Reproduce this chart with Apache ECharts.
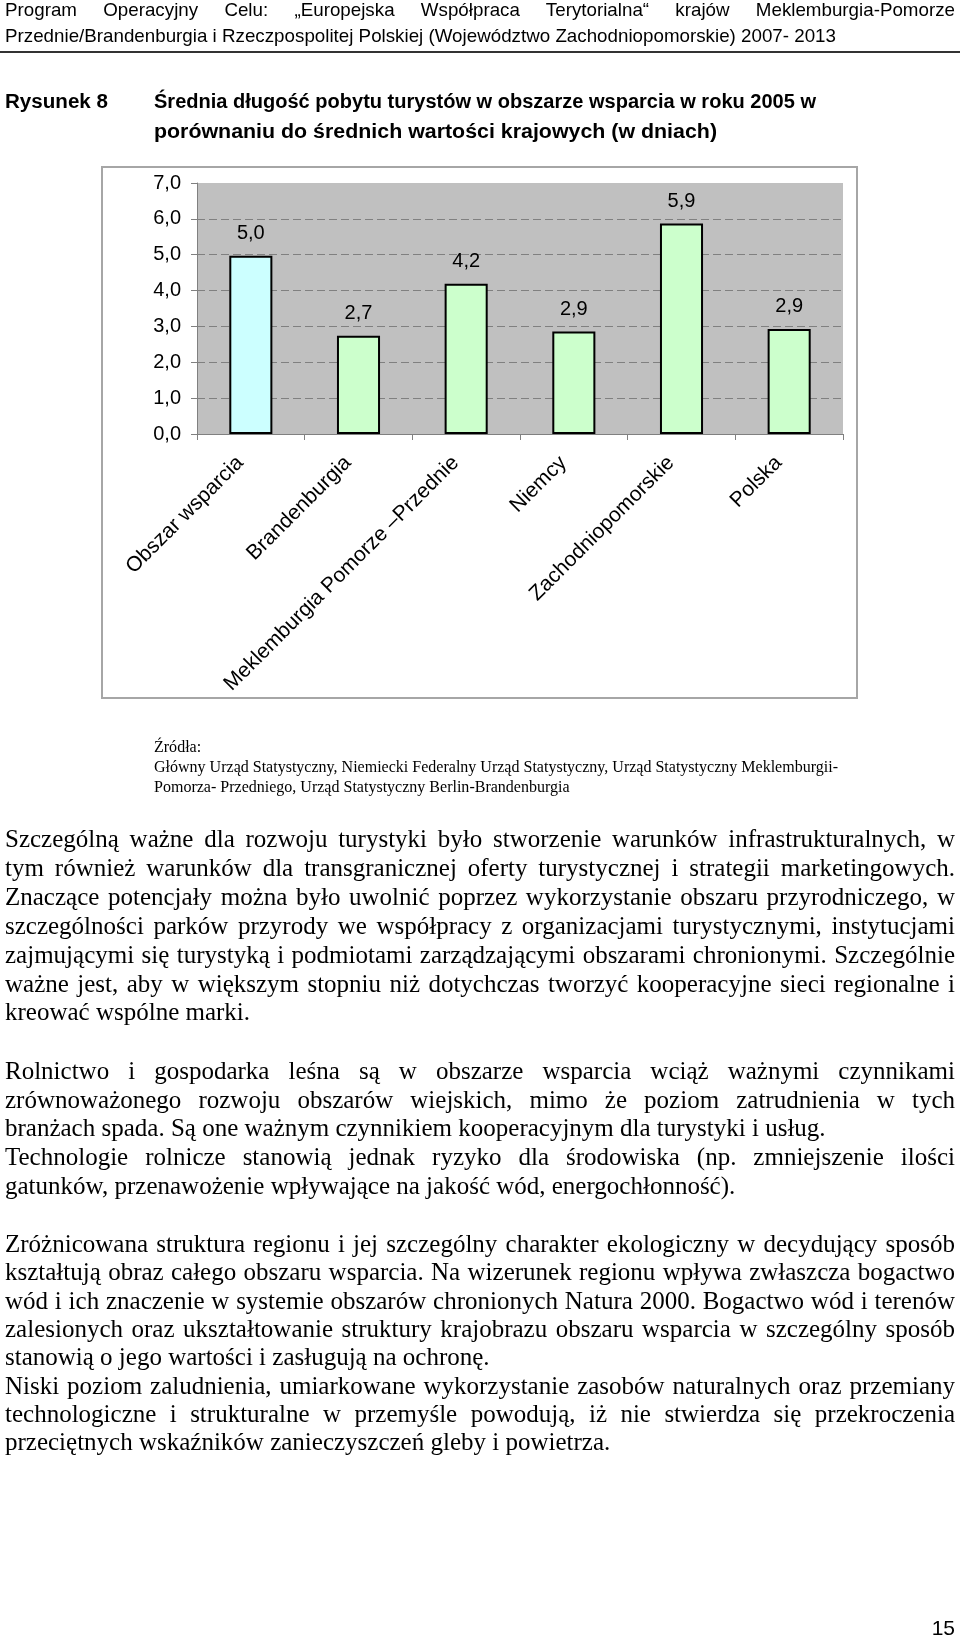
<!DOCTYPE html>
<html><head><meta charset="utf-8">
<script src="https://cdn.jsdelivr.net/npm/echarts@6/dist/echarts.min.js"></script>
<style>
html,body{margin:0;padding:0;background:#fff;}
body{width:960px;height:1638px;position:relative;overflow:hidden;}
.ln{position:absolute;white-space:pre;transform-origin:0 50%;color:#000;}
#box{position:absolute;left:101px;top:166px;width:757px;height:533px;border:2px solid #a6a6a6;box-sizing:border-box;}
#chart{position:absolute;left:0;top:0;width:960px;height:1638px;}
#rule{position:absolute;left:0;top:51px;width:960px;height:2px;background:#333;}
</style></head><body>
<div id="rule"></div><div id="box"></div><div id="chart"></div>
<script>
// ---- chart data ----
const categories = ['Obszar wsparcia', 'Brandenburgia', 'Meklemburgia Pomorze \u2013Przednie', 'Niemcy', 'Zachodniopomorskie', 'Polska'];
const values = [4.97, 2.74, 4.19, 2.86, 5.87, 2.93];
const yMin = 0, yMax = 7, yStep = 1;

// ---- page texts ----
const headerLines = [
  'Program Operacyjny Celu: \u201eEuropejska Wsp\u00f3\u0142praca Terytorialna\u201c kraj\u00f3w Meklemburgia-Pomorze',
  'Przednie/Brandenburgia i Rzeczpospolitej Polskiej (Wojew\u00f3dztwo Zachodniopomorskie) 2007- 2013'
];
const figureLabel = 'Rysunek 8';
const titleLines = [
  '\u015arednia d\u0142ugo\u015b\u0107 pobytu turyst\u00f3w w obszarze wsparcia w roku 2005 w',
  'por\u00f3wnaniu do \u015brednich warto\u015bci krajowych (w dniach)'
];
const sourceLines = [
  '\u0179r\u00f3d\u0142a:',
  'G\u0142\u00f3wny Urz\u0105d Statystyczny, Niemiecki Federalny Urz\u0105d Statystyczny, Urz\u0105d Statystyczny Meklemburgii-',
  'Pomorza- Przedniego, Urz\u0105d Statystyczny Berlin-Brandenburgia'
];
const bodyLines = [
  'Szczeg\u00f3ln\u0105 wa\u017cne dla rozwoju turystyki by\u0142o stworzenie warunk\u00f3w infrastrukturalnych, w',
  'tym r\u00f3wnie\u017c warunk\u00f3w dla transgranicznej oferty turystycznej i strategii marketingowych.',
  'Znacz\u0105ce potencja\u0142y mo\u017cna by\u0142o uwolni\u0107 poprzez wykorzystanie obszaru przyrodniczego, w',
  'szczeg\u00f3lno\u015bci park\u00f3w przyrody we wsp\u00f3\u0142pracy z organizacjami turystycznymi, instytucjami',
  'zajmuj\u0105cymi si\u0119 turystyk\u0105 i podmiotami zarz\u0105dzaj\u0105cymi obszarami chronionymi. Szczeg\u00f3lnie',
  'wa\u017cne jest, aby w wi\u0119kszym stopniu ni\u017c dotychczas tworzy\u0107 kooperacyjne sieci regionalne i',
  'kreowa\u0107 wsp\u00f3lne marki.',
  'Rolnictwo i gospodarka le\u015bna s\u0105 w obszarze wsparcia wci\u0105\u017c wa\u017cnymi czynnikami',
  'zr\u00f3wnowa\u017conego rozwoju obszar\u00f3w wiejskich, mimo \u017ce poziom zatrudnienia w tych',
  'bran\u017cach spada. S\u0105 one wa\u017cnym czynnikiem kooperacyjnym dla turystyki i us\u0142ug.',
  'Technologie rolnicze stanowi\u0105 jednak ryzyko dla \u015brodowiska (np. zmniejszenie ilo\u015bci',
  'gatunk\u00f3w, przenawo\u017cenie wp\u0142ywaj\u0105ce na jako\u015b\u0107 w\u00f3d, energoch\u0142onno\u015b\u0107).',
  'Zr\u00f3\u017cnicowana struktura regionu i jej szczeg\u00f3lny charakter ekologiczny w decyduj\u0105cy spos\u00f3b',
  'kszta\u0142tuj\u0105 obraz ca\u0142ego obszaru wsparcia. Na wizerunek regionu wp\u0142ywa zw\u0142aszcza bogactwo',
  'w\u00f3d i ich znaczenie w systemie obszar\u00f3w chronionych Natura 2000. Bogactwo w\u00f3d i teren\u00f3w',
  'zalesionych oraz ukszta\u0142towanie struktury krajobrazu obszaru wsparcia w szczeg\u00f3lny spos\u00f3b',
  'stanowi\u0105 o jego warto\u015bci i zas\u0142uguj\u0105 na ochron\u0119.',
  'Niski poziom zaludnienia, umiarkowane wykorzystanie zasob\u00f3w naturalnych oraz przemiany',
  'technologiczne i strukturalne w przemy\u015ble powoduj\u0105, i\u017c nie stwierdza si\u0119 przekroczenia',
  'przeci\u0119tnych wska\u017anik\u00f3w zanieczyszcze\u0144 gleby i powietrza.'
];
const pageNumber = '15';

// ---- layout (positions/styles) ----
const SANS = '"Liberation Sans", Arial, sans-serif';
const SERIF = '"Liberation Serif", "Times New Roman", serif';
const bodyCenters = [839, 868, 897, 926, 955, 984, 1012,
                     1071, 1100, 1128, 1157, 1186,
                     1244, 1272, 1301, 1329, 1357, 1386, 1414, 1442];
const bodyJustify = [1,1,1,1,1,1,0, 1,1,0,1,0, 1,1,1,1,0,1,1,0];

function placeLine(text, x, cy, font, mode, w, sx) {
  const el = document.createElement('div');
  el.className = 'ln';
  el.textContent = text;
  el.style.font = font;
  el.style.left = x + 'px';
  el.style.lineHeight = '30px';
  el.style.height = '30px';
  el.style.top = (cy - 15) + 'px';
  document.body.appendChild(el);
  const nat = el.getBoundingClientRect().width;
  let s = sx || 1;
  if (mode === 'fit') {
    s = w / nat;
  } else if (mode === 'just') {
    const n = (text.match(/ /g) || []).length;
    if (n > 0) el.style.wordSpacing = ((w / s - nat) / n) + 'px';
  }
  if (Math.abs(s - 1) > 0.001) el.style.transform = 'scaleX(' + s + ')';
  return s;
}

// header
const hs = placeLine(headerLines[1], 5, 36, '19px ' + SANS, 'fit', 831);
placeLine(headerLines[0], 5, 10, '19px ' + SANS, 'just', 950, hs);
// figure title
placeLine(figureLabel, 5, 101, 'bold 20px ' + SANS, 'fit', 103);
placeLine(titleLines[0], 154, 101, 'bold 20px ' + SANS, 'fit', 662);
placeLine(titleLines[1], 154, 131, 'bold 20px ' + SANS, 'fit', 563);
// sources
const ss = placeLine(sourceLines[1], 154, 767, '17px ' + SERIF, 'fit', 684);
placeLine(sourceLines[0], 154, 747, '17px ' + SERIF, 'none', 0, ss);
placeLine(sourceLines[2], 154, 787, '17px ' + SERIF, 'none', 0, ss);
// body
bodyLines.forEach((t, i) => {
  placeLine(t, 5, bodyCenters[i], '25px ' + SERIF, bodyJustify[i] ? 'just' : 'none', 950);
});
// page number
(function(){
  const el = document.createElement('div');
  el.className = 'ln';
  el.textContent = pageNumber;
  el.style.font = '21px ' + SANS;
  el.style.right = '5px';
  el.style.top = (1628 - 15) + 'px';
  el.style.lineHeight = '30px';
  document.body.appendChild(el);
})();

// ---- chart ----
const fmt = v => Number(v).toFixed(1).replace('.', ',');
const chart = echarts.init(document.getElementById('chart'), null, {renderer: 'canvas'});
chart.setOption({
  animation: false,
  grid: {left: 197, top: 183, width: 646, height: 251, show: true,
         backgroundColor: '#C0C0C0', borderWidth: 0},
  xAxis: {
    type: 'category', data: categories,
    axisLine: {lineStyle: {color: '#808080', width: 1}},
    axisTick: {show: true, length: 6, lineStyle: {color: '#808080'}},
    axisLabel: {rotate: 45, interval: 0, fontFamily: SANS, fontSize: 21, color: '#000',
                margin: 15, padding: [0, 15, 0, 0]}
  },
  yAxis: {
    type: 'value', min: yMin, max: yMax, interval: yStep,
    axisLine: {show: true, lineStyle: {color: '#808080', width: 1}},
    axisTick: {show: true, length: 6, lineStyle: {color: '#808080'}},
    axisLabel: {formatter: fmt, fontFamily: SANS, fontSize: 20, color: '#000', margin: 16},
    splitLine: {show: true, showMaxLine: false,
                lineStyle: {color: '#808080', width: 1, type: [8, 4]}}
  },
  series: [{
    type: 'bar', data: values, barWidth: '40%',
    itemStyle: {color: p => p.dataIndex === 0 ? '#CCFFFF' : '#CCFFCC',
                borderColor: '#000', borderWidth: 2},
    label: {show: true, position: 'top', distance: 12, formatter: p => fmt(p.value),
            fontFamily: SANS, fontSize: 20, color: '#000'}
  }]
});
</script>
</body></html>
